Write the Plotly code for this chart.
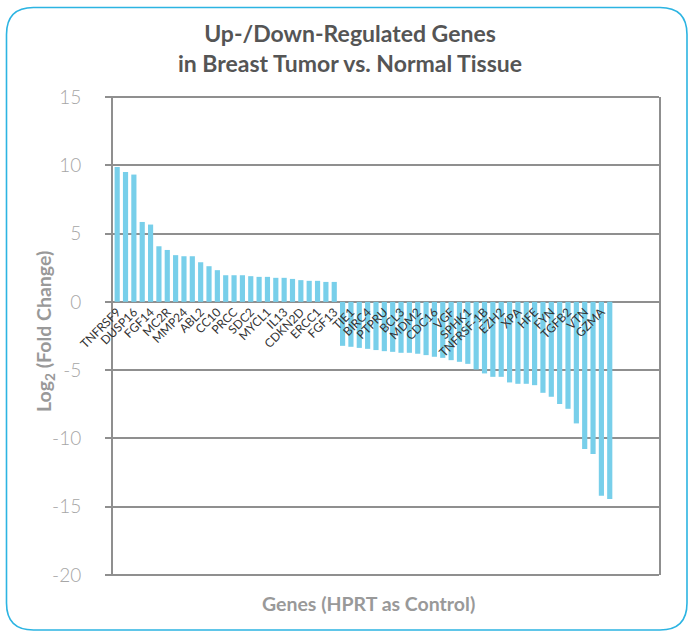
import plotly.graph_objects as go

# ---- data ----
log2_fold_change = [
    9.88, 9.51, 9.32, 5.85, 5.66, 4.07, 3.80, 3.42, 3.34, 3.34,
    2.90, 2.61, 2.32, 1.95, 1.95, 1.95, 1.88, 1.83, 1.83, 1.76,
    1.76, 1.68, 1.59, 1.54, 1.54, 1.46, 1.46,
    -3.22, -3.29, -3.37, -3.44, -3.53, -3.61, -3.66, -3.73, -3.73, -3.80,
    -3.90, -4.02, -4.10, -4.27, -4.39, -4.54, -4.95, -5.24, -5.49, -5.49,
    -5.90, -6.00, -6.00, -6.10, -6.66, -6.95, -7.48, -7.83, -8.90, -10.78,
    -11.14, -14.19, -14.43,
]
gene_tick_labels = [
    "TNFRSF9", "DUSP16", "FGF14", "MC2R", "MMP24", "ABL2", "CC10", "PRCC",
    "SDC2", "MYCL1", "IL13", "CDKN2D", "ERCC1", "FGF13",
    "TIE1", "BIRC4", "PTPRU", "BCL3", "MDM2", "CDC16", "VGF", "SPHK1",
    "TNFRSF-1B", "EZH2", "XPA", "HFE", "FYN", "TGFB2", "VTN", "GZMA",
]
y_tick_values = [15, 10, 5, 0, -5, -10, -15, -20]
y_tick_text = ["15", "10", "5", "0", "-5", "-10", "-15", "-20"]

bar_positions = list(range(len(log2_fold_change)))
label_positions = bar_positions[::2][:len(gene_tick_labels)]

W, H = 688, 632
ML, MR, MT, MB = 113, 29, 97, 57
PW, PH = W - ML - MR, H - MT - MB

GRID = "#8f8f8f"
BAR = "#78cfea"

fig = go.Figure()
fig.add_trace(go.Bar(
    x=bar_positions, y=log2_fold_change,
    marker=dict(color=BAR, line=dict(width=0)),
    width=0.62,
    showlegend=False,
))

def px_x(p):
    return (p - ML) / PW

def px_y(p):
    return (H - MB - p) / PH

# rounded frame around the whole chart
x0, x1, y0, y1, r = 6.5, 687, 7.5, 630, 27
path = (
    f"M {px_x(x0 + r)} {px_y(y0)} L {px_x(x1 - r)} {px_y(y0)} "
    f"Q {px_x(x1)} {px_y(y0)} {px_x(x1)} {px_y(y0 + r)} "
    f"L {px_x(x1)} {px_y(y1 - r)} "
    f"Q {px_x(x1)} {px_y(y1)} {px_x(x1 - r)} {px_y(y1)} "
    f"L {px_x(x0 + r)} {px_y(y1)} "
    f"Q {px_x(x0)} {px_y(y1)} {px_x(x0)} {px_y(y1 - r)} "
    f"L {px_x(x0)} {px_y(y0 + r)} "
    f"Q {px_x(x0)} {px_y(y0)} {px_x(x0 + r)} {px_y(y0)} Z"
)
fig.add_shape(type="path", path=path, xref="paper", yref="paper",
              line=dict(color="#2cb4e2", width=1.6), layer="above")
# top and bottom frame lines of the plot area
for yy in (0, 1):
    fig.add_shape(type="line", xref="paper", yref="paper",
                  x0=-6 / PW, x1=1, y0=yy, y1=yy,
                  line=dict(color=GRID, width=2), layer="below")

fig.update_layout(
    width=W, height=H,
    margin=dict(l=ML, r=MR, t=MT, b=MB, autoexpand=False),
    paper_bgcolor="white", plot_bgcolor="white",
    font=dict(family="Lato, 'Open Sans', sans-serif"),
    title=dict(
        text="Up-/Down-Regulated Genes<br>in Breast Tumor vs. Normal Tissue",
        x=350 / W, xanchor="center", y=1 - 42 / H, yanchor="middle",
        font=dict(size=23, color="#555555", weight="bold"),
    ),
    bargap=0.4,
    xaxis=dict(
        range=[-0.5, 64.9], automargin=False,
        anchor="free", position=20 / 35,
        tickmode="array", tickvals=label_positions, ticktext=gene_tick_labels,
        tickangle=-45, ticks="", showgrid=False, showline=False, zeroline=False,
        tickfont=dict(size=12, color="#333333"),
    ),
    yaxis=dict(
        range=[-20, 15], automargin=False,
        tickmode="array", tickvals=y_tick_values, ticktext=y_tick_text,
        showgrid=True, gridcolor=GRID, gridwidth=2,
        zeroline=True, zerolinecolor=GRID, zerolinewidth=2,
        showline=True, linecolor=GRID, linewidth=2, mirror=True,
        ticks="outside", ticklen=6, tickwidth=2, tickcolor=GRID,
        ticklabelstandoff=20,
        tickfont=dict(size=19, color="#a6a6a6", weight=300),
    ),
    annotations=[
        dict(
            text="Genes (HPRT as Control)", xref="paper", yref="paper",
            x=px_x(368), y=px_y(603), xanchor="center", yanchor="middle",
            showarrow=False, font=dict(size=19.5, color="#999999", weight="bold"),
        ),
        dict(
            text="Log<sub>2</sub> (Fold Change)", xref="paper", yref="paper",
            x=px_x(45), y=px_y(332), xanchor="center", yanchor="middle",
            textangle=-90, showarrow=False,
            font=dict(size=19.5, color="#999999", weight="bold"),
        ),
    ],
)

fig.write_html("out.html", config={"displayModeBar": False},
               post_script="document.body.style.margin='0';")
